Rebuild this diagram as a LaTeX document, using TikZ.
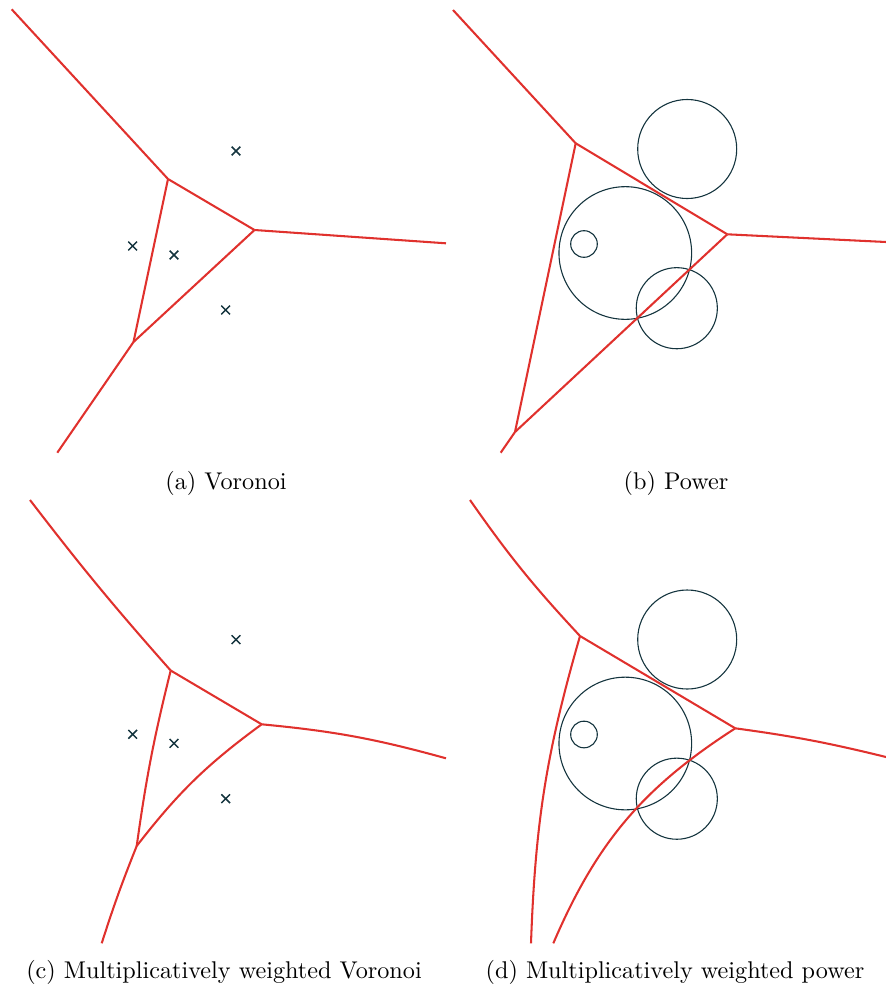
\documentclass[tikz,border=0pt]{standalone}
\usepackage{tikz}
\usetikzlibrary{shapes.misc}
\definecolor{cellred}{RGB}{224,49,45}
\definecolor{sitedark}{RGB}{20,52,62}

\begin{document}
\begin{tikzpicture}[x=0.4131pt,y=-0.4131pt,
                cell/.style={draw=cellred,line width=0.85pt},
                site/.style={cross out,draw=sitedark,line width=0.6pt,minimum size=3pt,inner sep=0pt},
                weight/.style={shape=circle,draw=sitedark,line width=0.45pt,inner sep=0pt}]
                \useasboundingbox (0,0) rectangle (886,987);
                % (a) Voronoi
                \coordinate(aNW)at(11.7, 9.3);
                \coordinate(aA)at(168, 179);
                \coordinate(aB)at(254.5, 230);
                \coordinate(aC)at(133.5, 342);
                \coordinate(aE)at(446, 243.3);
                \coordinate(aS)at(57.3, 452.7);
                \node[site](a1)at(236, 151){};
                \node[site](a2)at(132.7, 246){};
                \node[site](a3)at(174, 255){};
                \node[site](a4)at(225.7, 310){};
                \path[cell](aNW) edge (aA)
                (aA) edge (aB)
                (aB) edge (aE)
                (aA) edge (aC)
                (aC) edge (aB)
                (aC) edge (aS);
                \node(capA)at(226, 483){(a) Voronoi};
                % (b) Power
                \coordinate(bNW)at(453, 10);
                \coordinate(bA)at(575.7, 143.3);
                \coordinate(bB)at(727.3, 234.3);
                \coordinate(bC)at(515, 432);
                \coordinate(bE)at(886, 242);
                \coordinate(bS)at(500.7, 452.7);
                \node[weight,minimum size=40.9pt](b1)at(687.2, 149){};
                \node[weight,minimum size=54.8pt](b3)at(625.3, 253){};
                \node[weight,minimum size=11pt](b2)at(584, 244){};
                \node[weight,minimum size=33.5pt](b4)at(676.8, 308.2){};
                \path[cell](bNW) edge (bA)
                (bA) edge (bB)
                (bB) edge (bE)
                (bA) edge (bC)
                (bC) edge (bB)
                (bC) edge (bS);
                \node(capB)at(676, 483){(b) Power};
                % (c) Multiplicatively weighted Voronoi
                \coordinate(cNW)at(30, 500);
                \coordinate(cA)at(170.7, 670.5);
                \coordinate(cB)at(261.7, 724.3);
                \coordinate(cC)at(136.7, 846);
                \coordinate(cE)at(446, 758.3);
                \coordinate(cS)at(101.7, 943.3);
                \node[site](c1)at(236, 639.7){};
                \node[site](c2)at(132.7, 734.3){};
                \node[site](c3)at(174, 743.3){};
                \node[site](c4)at(225.7, 798.7){};
                \path[cell](cNW) edge[bend right=2] (cA)
                (cA) edge (cB)
                (cB) edge[bend left=5] (cE)
                (cA) edge[bend right=3] (cC)
                (cC) edge[bend left=8] (cB)
                (cC) edge[bend right=2] (cS);
                \node(capC)at(224, 972){(c) Multiplicatively weighted Voronoi};
                % (d) Multiplicatively weighted power
                \coordinate(dNW)at(470, 500);
                \coordinate(dA)at(580, 636);
                \coordinate(dB)at(735.3, 728.3);
                \coordinate(dE)at(886, 757);
                \coordinate(dSW)at(531, 943.3);
                \coordinate(dS)at(553.3, 943.3);
                \node[weight,minimum size=40.9pt](d1)at(687.2, 639.5){};
                \node[weight,minimum size=54.8pt](d3)at(625.3, 743.5){};
                \node[weight,minimum size=11pt](d2)at(584, 734.5){};
                \node[weight,minimum size=33.5pt](d4)at(676.8, 798.7){};
                \path[cell](dNW) edge[bend right=4] (dA)
                (dA) edge (dB)
                (dB) edge[bend left=3] (dE)
                (dA) edge[bend right=7] (dSW)
                (dB) edge[bend right=17] (dS);
                \node(capD)at(675, 972){(d) Multiplicatively weighted power};
            \end{tikzpicture}
\end{document}
